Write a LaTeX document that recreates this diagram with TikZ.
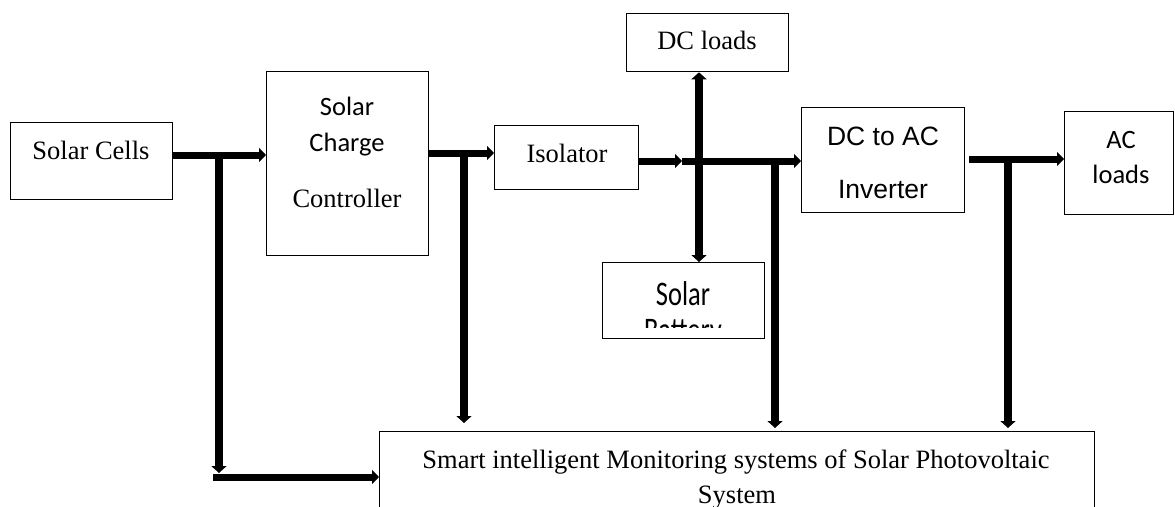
\documentclass[tikz,border=0pt]{standalone}
\usepackage{fontspec}
\setmainfont{Liberation Serif}
\newfontfamily\calibri{Carlito}
\newfontfamily\arial{Liberation Sans}
\usetikzlibrary{arrows.meta}

\tikzset{
  box/.style={draw, line width=1.3pt, rectangle, inner sep=0pt, anchor=north west},
  txt/.style={anchor=base, inner sep=0pt, font=\fontsize{26.5}{31}\selectfont},
  hline/.style={line width=7pt},
  vline/.style={line width=8pt},
  harr/.style={hline, -{Triangle[length=7pt,width=14pt]}},
  varr/.style={vline, -{Triangle[length=7pt,width=15pt]}},
  vboth/.style={vline, {Triangle[length=7pt,width=15pt]}-{Triangle[length=7pt,width=15pt]}},
}

\begin{document}
\begin{tikzpicture}[x=1pt, y=-1pt]
\useasboundingbox (0,0) rectangle (1175,506);
\clip (0,0) rectangle (1175,506);

% blocks
\node[box, minimum width=162pt, minimum height=77pt]  (cells) at (10,122) {};
\node[box, minimum width=162pt, minimum height=184pt] (scc)   at (266,71) {};
\node[box, minimum width=144pt, minimum height=64pt]  (iso)   at (494,125) {};
\node[box, minimum width=162pt, minimum height=58pt]  (dcl)   at (626,13) {};
\node[box, minimum width=162pt, minimum height=76pt]  (bat)   at (602,262) {};
\node[box, minimum width=163pt, minimum height=105pt] (inv)   at (801,107) {};
\node[box, minimum width=109pt, minimum height=103pt] (acl)   at (1064,111) {};
\node[box, minimum width=715pt, minimum height=110pt] (mon)   at (379,431) {};

% block texts
\node[txt] (cells-t) at (91,159) {Solar Cells};
\node[txt] (scc-1) at (347,115) {\calibri Solar};
\node[txt] (scc-2) at (347,151) {\calibri Charge};
\node[txt] (scc-3) at (347,207) {Controller};
\node[txt] (iso-t) at (567,162) {Isolator};
\node[txt] (dcl-t) at (707,49) {DC loads};
\begin{scope}
  \clip (602,262) rectangle (764,327);
  \node[txt] (bat-1) at (683,305) {\calibri\scalebox{1}[1.3]{Solar}};
  \node[txt] (bat-2) at (683,341) {\calibri\scalebox{1}[1.3]{Battery}};
\end{scope}
\node[txt] (inv-1) at (883,145) {\arial DC to AC};
\node[txt] (inv-2) at (883,198) {\arial Inverter};
\node[txt] (acl-1) at (1121,148) {\calibri AC};
\node[txt] (acl-2) at (1121,183) {\calibri loads};
\node[txt] (mon-1) at (736,468) {Smart intelligent Monitoring systems of Solar Photovoltaic};
\node[txt] (mon-2) at (737,503) {System};

% junction and end points
\coordinate (j1) at (219,155);
\coordinate (e1) at (219,473);
\coordinate (s1) at (213,477);
\coordinate (j2) at (464,153);
\coordinate (e2) at (464,423);
\coordinate (a3) at (682,161);
\coordinate (j3) at (699,161);
\coordinate (j4) at (775,161);
\coordinate (e4) at (775,428);
\coordinate (j5) at (1008,159);
\coordinate (e5) at (1008,428);

% Solar cells to charge controller, tap to monitoring
\draw[harr] (j1 -| cells.east) -- (j1 -| scc.west);
\draw[varr] (j1) -- (e1);
\draw[harr] (s1) -- (s1 -| mon.west);

% charge controller to isolator, tap to monitoring
\draw[harr] (j2 -| scc.east) -- (j2 -| iso.west);
\draw[varr] (j2) -- (e2);

% isolator to DC bus and inverter
\draw[harr] (a3 -| iso.east) -- (a3);
\draw[harr] (a3) -- (a3 -| inv.west);
\draw[vboth] (j3 |- dcl.south) -- (j3 |- bat.north);
\draw[varr] (j4) -- (e4);

% inverter to AC loads, tap to monitoring
\draw[harr] ([xshift=4pt]inv.east |- j5) -- (j5 -| acl.west);
\draw[varr] (j5) -- (e5);
\end{tikzpicture}
\end{document}
